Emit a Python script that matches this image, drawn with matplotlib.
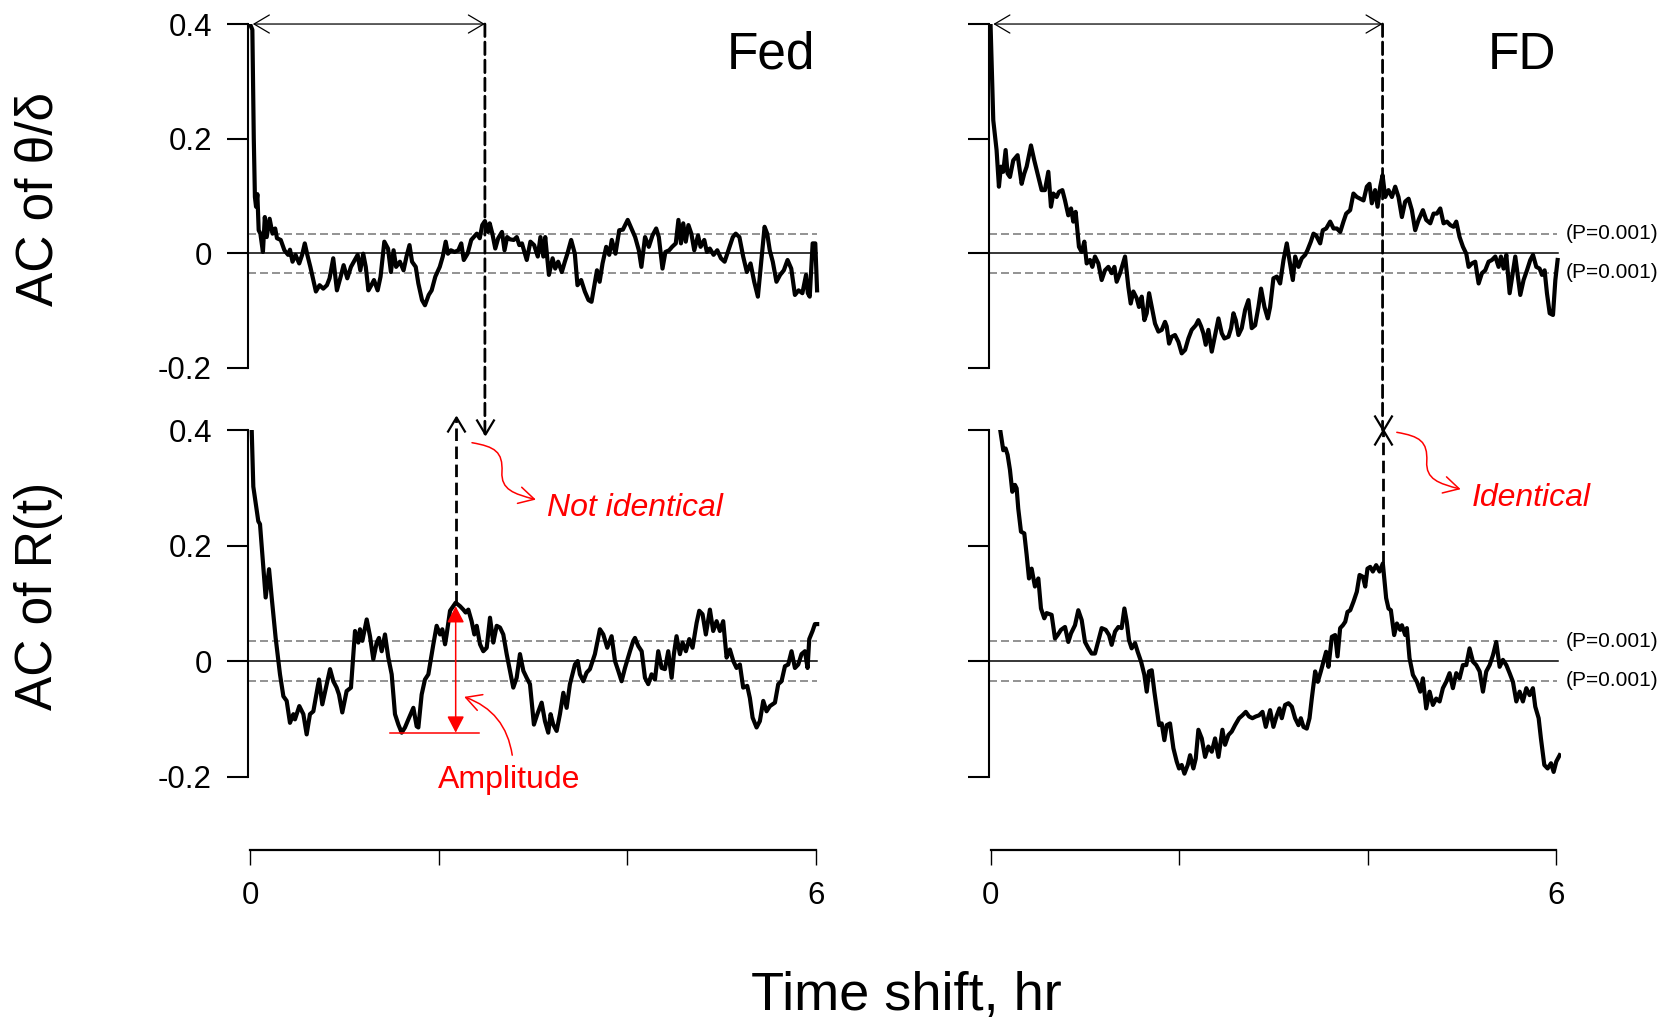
import numpy as np
import matplotlib
matplotlib.use('Agg')
import matplotlib.pyplot as plt
from matplotlib.patches import ConnectionPatch, FancyArrowPatch
from matplotlib.path import Path

plt.rcParams['font.family'] = ['Liberation Sans', 'DejaVu Sans']

# autocorrelation vs. time shift, (hr, AC) pairs
fed_theta = [
    (0.0, 0.400), (0.025, 0.390), (0.040, 0.200), (0.052, 0.098), (0.064, 0.081), (0.078, 0.103),
    (0.092, 0.040), (0.110, 0.034), (0.137, 0.002), (0.157, 0.063), (0.177, 0.028), (0.208, 0.060),
    (0.239, 0.034), (0.267, 0.043), (0.286, 0.026), (0.326, 0.023), (0.365, 0.005), (0.404, -0.003),
    (0.424, 0.006), (0.451, -0.015), (0.483, -0.003), (0.522, -0.018), (0.553, -0.003), (0.581, 0.017),
    (0.608, -0.003), (0.640, -0.024), (0.699, -0.067), (0.738, -0.056), (0.777, -0.062), (0.816, -0.056),
    (0.844, -0.044), (0.883, -0.009), (0.922, -0.065), (0.962, -0.041), (0.993, -0.021), (1.032, -0.044),
    (1.071, -0.024), (1.111, -0.012), (1.142, -0.003), (1.170, -0.030), (1.201, -0.001), (1.228, -0.024),
    (1.256, -0.065), (1.287, -0.056), (1.315, -0.047), (1.354, -0.065), (1.385, -0.041), (1.425, 0.020),
    (1.464, 0.008), (1.495, -0.033), (1.523, 0.005), (1.550, -0.024), (1.590, -0.015), (1.629, -0.030),
    (1.660, -0.006), (1.692, 0.014), (1.719, -0.015), (1.758, -0.024), (1.786, -0.053), (1.825, -0.082),
    (1.856, -0.091), (1.896, -0.073), (1.927, -0.065), (1.966, -0.041), (2.013, -0.024), (2.045, -0.006),
    (2.076, 0.020), (2.100, -0.001), (2.131, 0.005), (2.170, 0.002), (2.210, 0.005), (2.241, 0.017),
    (2.268, -0.012), (2.308, -0.001), (2.347, 0.023), (2.374, 0.028), (2.406, 0.034), (2.437, 0.026),
    (2.464, 0.049), (2.492, 0.056), (2.524, 0.037), (2.543, 0.052), (2.571, 0.034), (2.602, 0.008),
    (2.633, 0.026), (2.673, 0.037), (2.700, 0.005), (2.728, 0.028), (2.759, 0.024), (2.798, 0.023),
    (2.830, 0.028), (2.857, 0.014), (2.885, 0.017), (2.936, -0.012), (2.975, 0.020), (3.014, 0.014),
    (3.053, -0.006), (3.081, 0.028), (3.112, -0.006), (3.132, 0.028), (3.171, -0.038), (3.210, -0.009),
    (3.238, -0.027), (3.269, -0.015), (3.308, -0.033), (3.340, -0.015), (3.367, -0.001), (3.407, 0.023),
    (3.446, -0.001), (3.474, -0.056), (3.513, -0.047), (3.552, -0.067), (3.591, -0.082), (3.623, -0.085),
    (3.654, -0.056), (3.681, -0.030), (3.709, -0.050), (3.740, -0.018), (3.779, 0.011), (3.811, -0.003),
    (3.838, 0.023), (3.877, -0.001), (3.917, 0.040), (3.956, 0.041), (4.007, 0.058), (4.046, 0.043),
    (4.086, 0.028), (4.125, 0.005), (4.152, -0.024), (4.191, 0.028), (4.231, 0.011), (4.270, 0.031),
    (4.309, 0.043), (4.337, 0.028), (4.376, -0.027), (4.407, 0.002), (4.447, 0.005), (4.478, 0.011),
    (4.517, 0.017), (4.545, 0.058), (4.572, 0.017), (4.596, 0.052), (4.623, 0.020), (4.651, 0.049),
    (4.682, 0.034), (4.713, 0.005), (4.753, 0.031), (4.780, 0.011), (4.819, 0.023), (4.847, 0.002),
    (4.878, 0.008), (4.918, -0.003), (4.957, 0.005), (4.996, -0.009), (5.035, -0.015), (5.075, 0.005),
    (5.122, 0.028), (5.153, 0.034), (5.192, 0.028), (5.232, -0.006), (5.271, -0.033), (5.310, -0.018),
    (5.349, -0.050), (5.388, -0.076), (5.420, -0.021), (5.459, 0.046), (5.487, 0.034), (5.514, 0.005),
    (5.546, -0.015), (5.585, -0.050), (5.624, -0.038), (5.663, -0.030), (5.703, -0.012), (5.742, -0.027),
    (5.781, -0.073), (5.820, -0.065), (5.860, -0.070), (5.899, -0.038), (5.918, -0.070), (5.938, -0.076),
    (5.969, 0.017), (5.997, 0.017), (6.016, -0.065),
]

fed_rt = [
    (0.018, 0.400), (0.035, 0.302), (0.088, 0.242), (0.106, 0.237), (0.166, 0.110), (0.202, 0.159),
    (0.230, 0.110), (0.272, 0.040), (0.318, -0.023), (0.354, -0.061), (0.389, -0.069), (0.424, -0.107),
    (0.460, -0.092), (0.477, -0.101), (0.523, -0.078), (0.566, -0.092), (0.601, -0.127), (0.636, -0.092),
    (0.672, -0.087), (0.732, -0.032), (0.767, -0.075), (0.849, -0.014), (0.884, -0.035), (0.919, -0.046),
    (0.944, -0.058), (0.979, -0.089), (1.025, -0.052), (1.071, -0.046), (1.114, 0.052), (1.149, 0.032),
    (1.167, 0.055), (1.192, 0.035), (1.238, 0.072), (1.273, 0.043), (1.308, 0.003), (1.344, 0.032),
    (1.368, 0.040), (1.397, 0.017), (1.432, 0.046), (1.467, 0.006), (1.503, -0.023), (1.538, -0.092),
    (1.574, -0.110), (1.609, -0.124), (1.644, -0.115), (1.680, -0.101), (1.733, -0.081), (1.768, -0.113),
    (1.786, -0.115), (1.821, -0.058), (1.856, -0.032), (1.892, -0.023), (1.945, 0.029), (1.980, 0.061),
    (2.016, 0.046), (2.040, 0.055), (2.069, 0.029), (2.086, 0.046), (2.122, 0.087), (2.182, 0.101),
    (2.228, 0.095), (2.263, 0.089), (2.288, 0.084), (2.316, 0.089), (2.351, 0.069), (2.380, 0.046),
    (2.405, 0.061), (2.440, 0.029), (2.475, 0.017), (2.511, 0.023), (2.546, 0.075), (2.581, 0.032),
    (2.617, 0.061), (2.652, 0.058), (2.687, 0.046), (2.723, 0.012), (2.758, -0.017), (2.793, -0.046),
    (2.829, -0.029), (2.864, 0.012), (2.900, -0.017), (2.935, -0.029), (2.970, -0.040), (3.012, -0.110),
    (3.048, -0.092), (3.094, -0.072), (3.129, -0.104), (3.164, -0.124), (3.189, -0.092), (3.217, -0.110),
    (3.253, -0.121), (3.288, -0.092), (3.324, -0.055), (3.359, -0.081), (3.394, -0.040), (3.447, -0.006),
    (3.476, 0.000), (3.500, -0.023), (3.536, -0.035), (3.571, -0.020), (3.606, -0.014), (3.659, 0.012),
    (3.712, 0.055), (3.748, 0.046), (3.790, 0.023), (3.836, 0.043), (3.872, 0.000), (3.907, -0.017),
    (3.942, -0.035), (3.978, -0.012), (4.031, 0.017), (4.066, 0.035), (4.084, 0.040), (4.119, 0.026),
    (4.155, 0.017), (4.190, -0.029), (4.225, -0.040), (4.260, -0.023), (4.296, -0.032), (4.331, 0.017),
    (4.367, -0.012), (4.402, -0.014), (4.437, 0.017), (4.473, -0.029), (4.497, 0.012), (4.525, 0.043),
    (4.561, 0.012), (4.589, 0.032), (4.624, 0.017), (4.660, 0.038), (4.695, 0.023), (4.738, 0.066),
    (4.766, 0.087), (4.801, 0.081), (4.836, 0.046), (4.879, 0.089), (4.914, 0.052), (4.950, 0.069),
    (4.985, 0.052), (5.020, 0.069), (5.056, 0.006), (5.091, 0.020), (5.127, 0.000), (5.162, -0.012),
    (5.197, -0.006), (5.232, -0.046), (5.275, -0.043), (5.303, -0.064), (5.332, -0.098), (5.374, -0.115),
    (5.409, -0.104), (5.445, -0.069), (5.480, -0.087), (5.516, -0.078), (5.569, -0.072), (5.604, -0.040),
    (5.639, -0.035), (5.675, -0.009), (5.710, -0.006), (5.745, 0.017), (5.781, -0.012), (5.816, -0.006),
    (5.851, 0.012), (5.887, 0.017), (5.915, -0.012), (5.933, 0.038), (5.968, 0.052), (5.993, 0.064),
    (6.017, 0.064),
]

fd_theta = [
    (0.0, 0.400), (0.029, 0.232), (0.064, 0.180), (0.089, 0.116), (0.110, 0.151), (0.135, 0.142),
    (0.160, 0.180), (0.181, 0.139), (0.206, 0.133), (0.241, 0.162), (0.287, 0.171), (0.330, 0.121),
    (0.358, 0.139), (0.383, 0.151), (0.429, 0.188), (0.464, 0.162), (0.507, 0.133), (0.542, 0.110),
    (0.577, 0.110), (0.613, 0.142), (0.641, 0.081), (0.666, 0.104), (0.701, 0.098), (0.726, 0.107),
    (0.762, 0.110), (0.790, 0.092), (0.825, 0.066), (0.854, 0.078), (0.878, 0.055), (0.903, 0.072),
    (0.938, 0.011), (0.967, 0.002), (0.995, 0.020), (1.020, -0.018), (1.055, -0.012), (1.080, -0.024),
    (1.108, -0.006), (1.144, -0.018), (1.179, -0.047), (1.214, -0.030), (1.250, -0.024), (1.285, -0.035),
    (1.314, -0.024), (1.338, -0.050), (1.374, -0.035), (1.427, -0.006), (1.462, -0.059), (1.487, -0.088),
    (1.515, -0.067), (1.551, -0.079), (1.575, -0.094), (1.604, -0.076), (1.632, -0.117), (1.657, -0.105),
    (1.682, -0.070), (1.710, -0.094), (1.745, -0.123), (1.781, -0.137), (1.816, -0.134), (1.851, -0.120),
    (1.869, -0.128), (1.894, -0.158), (1.922, -0.146), (1.957, -0.143), (1.993, -0.155), (2.028, -0.175),
    (2.064, -0.169), (2.099, -0.149), (2.134, -0.134), (2.177, -0.126), (2.205, -0.117), (2.234, -0.128),
    (2.258, -0.140), (2.283, -0.160), (2.311, -0.134), (2.347, -0.172), (2.382, -0.143), (2.418, -0.114),
    (2.453, -0.140), (2.481, -0.149), (2.524, -0.146), (2.552, -0.131), (2.577, -0.105), (2.602, -0.117),
    (2.630, -0.143), (2.665, -0.131), (2.701, -0.099), (2.736, -0.082), (2.771, -0.131), (2.807, -0.126),
    (2.842, -0.094), (2.870, -0.062), (2.906, -0.094), (2.941, -0.114), (2.966, -0.094), (3.001, -0.044),
    (3.037, -0.041), (3.072, -0.053), (3.108, -0.012), (3.143, 0.017), (3.171, -0.012), (3.207, -0.047),
    (3.232, -0.006), (3.267, -0.024), (3.302, -0.009), (3.338, -0.003), (3.362, 0.005), (3.398, 0.020),
    (3.426, 0.034), (3.454, 0.031), (3.497, 0.017), (3.525, 0.040), (3.561, 0.043), (3.603, 0.055),
    (3.639, 0.043), (3.674, 0.043), (3.710, 0.037), (3.744, 0.055), (3.773, 0.069), (3.815, 0.075),
    (3.850, 0.104), (3.886, 0.098), (3.921, 0.095), (3.957, 0.092), (3.992, 0.116), (4.020, 0.121),
    (4.045, 0.087), (4.080, 0.110), (4.106, 0.081), (4.134, 0.116), (4.159, 0.136), (4.187, 0.098),
    (4.222, 0.110), (4.258, 0.098), (4.293, 0.116), (4.328, 0.098), (4.364, 0.063), (4.399, 0.090),
    (4.435, 0.095), (4.470, 0.075), (4.505, 0.040), (4.541, 0.058), (4.587, 0.075), (4.622, 0.058),
    (4.665, 0.052), (4.700, 0.069), (4.735, 0.069), (4.771, 0.078), (4.806, 0.052), (4.842, 0.055),
    (4.877, 0.049), (4.912, 0.046), (4.941, 0.055), (4.976, 0.028), (5.012, 0.011), (5.047, -0.001),
    (5.072, -0.024), (5.107, -0.018), (5.142, -0.015), (5.178, -0.053), (5.213, -0.035), (5.248, -0.030),
    (5.284, -0.015), (5.319, -0.012), (5.355, -0.006), (5.390, -0.024), (5.415, -0.006), (5.443, -0.027),
    (5.472, -0.003), (5.507, -0.070), (5.542, -0.033), (5.567, -0.006), (5.592, -0.038), (5.620, -0.073),
    (5.655, -0.047), (5.691, -0.030), (5.726, -0.012), (5.755, -0.003), (5.790, -0.024), (5.825, -0.027),
    (5.850, -0.038), (5.878, -0.030), (5.903, -0.070), (5.932, -0.105), (5.967, -0.108), (5.992, -0.047),
    (6.016, -0.012),
]

fd_rt = [
    (0.100, 0.403), (0.135, 0.365), (0.160, 0.368), (0.181, 0.357), (0.206, 0.331), (0.231, 0.293),
    (0.259, 0.305), (0.277, 0.299), (0.294, 0.264), (0.323, 0.224), (0.358, 0.221), (0.383, 0.184),
    (0.408, 0.143), (0.436, 0.160), (0.471, 0.129), (0.507, 0.143), (0.535, 0.091), (0.570, 0.074),
    (0.595, 0.083), (0.648, 0.080), (0.684, 0.039), (0.712, 0.045), (0.747, 0.054), (0.790, 0.059),
    (0.825, 0.033), (0.854, 0.048), (0.896, 0.062), (0.931, 0.088), (0.967, 0.071), (1.002, 0.033),
    (1.038, 0.022), (1.073, 0.013), (1.108, 0.013), (1.137, 0.031), (1.179, 0.057), (1.222, 0.054),
    (1.257, 0.045), (1.285, 0.028), (1.321, 0.051), (1.356, 0.059), (1.391, 0.057), (1.420, 0.091),
    (1.445, 0.068), (1.469, 0.036), (1.497, 0.022), (1.533, 0.031), (1.561, 0.016), (1.597, -0.001),
    (1.632, -0.024), (1.657, -0.053), (1.681, -0.018), (1.710, -0.016), (1.738, -0.053), (1.763, -0.082),
    (1.788, -0.111), (1.816, -0.108), (1.844, -0.137), (1.869, -0.111), (1.904, -0.108), (1.940, -0.151),
    (1.975, -0.174), (2.000, -0.186), (2.028, -0.180), (2.057, -0.195), (2.092, -0.180), (2.117, -0.163),
    (2.152, -0.186), (2.177, -0.169), (2.205, -0.119), (2.241, -0.134), (2.276, -0.166), (2.311, -0.148),
    (2.347, -0.157), (2.382, -0.134), (2.418, -0.166), (2.460, -0.119), (2.488, -0.145), (2.524, -0.128),
    (2.559, -0.122), (2.594, -0.111), (2.637, -0.099), (2.672, -0.094), (2.708, -0.088), (2.743, -0.096),
    (2.778, -0.099), (2.814, -0.096), (2.849, -0.094), (2.885, -0.088), (2.920, -0.114), (2.966, -0.085),
    (3.001, -0.114), (3.037, -0.094), (3.065, -0.082), (3.090, -0.099), (3.125, -0.076), (3.161, -0.073),
    (3.196, -0.079), (3.231, -0.099), (3.267, -0.111), (3.292, -0.099), (3.320, -0.114), (3.355, -0.117),
    (3.384, -0.099), (3.408, -0.065), (3.444, -0.018), (3.472, -0.036), (3.504, -0.018), (3.532, -0.001),
    (3.560, 0.016), (3.585, -0.010), (3.621, 0.042), (3.656, 0.045), (3.681, 0.008), (3.709, 0.057),
    (3.738, 0.062), (3.763, 0.068), (3.787, 0.085), (3.816, 0.088), (3.851, 0.103), (3.886, 0.120),
    (3.915, 0.149), (3.950, 0.146), (3.975, 0.129), (3.999, 0.160), (4.028, 0.163), (4.056, 0.155),
    (4.091, 0.166), (4.127, 0.155), (4.162, 0.169), (4.197, 0.109), (4.222, 0.091), (4.247, 0.088),
    (4.282, 0.045), (4.311, 0.065), (4.346, 0.054), (4.364, 0.062), (4.399, 0.045), (4.417, 0.057),
    (4.445, 0.005), (4.481, -0.024), (4.523, -0.036), (4.559, -0.053), (4.587, -0.030), (4.622, -0.082),
    (4.658, -0.053), (4.693, -0.076), (4.728, -0.065), (4.764, -0.070), (4.799, -0.047), (4.834, -0.036),
    (4.870, -0.021), (4.905, -0.047), (4.941, -0.021), (4.976, -0.030), (5.011, -0.007), (5.047, -0.007),
    (5.082, 0.022), (5.118, -0.001), (5.153, -0.007), (5.189, -0.018), (5.224, -0.053), (5.259, -0.018),
    (5.295, -0.007), (5.330, 0.010), (5.365, 0.033), (5.401, -0.010), (5.436, 0.002), (5.472, -0.007),
    (5.507, -0.021), (5.542, -0.036), (5.578, -0.070), (5.613, -0.053), (5.648, -0.070), (5.684, -0.047),
    (5.719, -0.059), (5.754, -0.047), (5.779, -0.079), (5.815, -0.099), (5.839, -0.134), (5.875, -0.180),
    (5.910, -0.186), (5.946, -0.177), (5.974, -0.192), (6.002, -0.174), (6.038, -0.163),
]

p_level = 0.034          # significance band, P = 0.001
yticks = [-0.2, 0, 0.2, 0.4]
ytick_labels = ['-0.2', '0', '0.2', '0.4']
xticks = [0, 2, 4, 6]
xtick_labels = ['0', '', '', '6']

fig = plt.figure(figsize=(16.72, 10.18), dpi=100)
col_w = 0.3422
ax_tl = fig.add_axes([0.1484, 0.6332, col_w, 0.3432])
ax_tr = fig.add_axes([0.5913, 0.6332, col_w, 0.3432])
ax_bl = fig.add_axes([0.1484, 0.2315, col_w, 0.3461])
ax_br = fig.add_axes([0.5913, 0.2315, col_w, 0.3461])


def draw_panel(ax, curve, show_labels, bottom_axis, p_text):
    x, y = np.array(curve).T
    ax.set_xlim(-0.02, 6.05)
    ax.set_ylim(-0.21, 0.4)
    ax.plot([-0.02, 6.02], [0, 0], color='k', lw=1.1)
    for lev in (p_level, -p_level):
        ax.plot([-0.02, 6.01], [lev, lev], color='#808080', lw=1.2, dashes=(4.8, 2.4))
        if p_text:
            ax.text(6.1, lev, '(P=0.001)', fontsize=15, ha='left', va='center')
    ax.plot(x, y, color='k', lw=3.0, solid_joinstyle='round')

    for s in ('top', 'right'):
        ax.spines[s].set_visible(False)
    ax.spines['left'].set_bounds(-0.2, 0.4)
    ax.spines['left'].set_linewidth(1.5)
    ax.set_yticks(yticks)
    ax.set_yticklabels(ytick_labels if show_labels else [])
    ax.tick_params(axis='y', length=15, width=1.5, pad=11, labelsize=22.5)
    if bottom_axis:
        ax.spines['bottom'].set_position(('outward', 48.7))
        ax.spines['bottom'].set_bounds(0, 6)
        ax.spines['bottom'].set_linewidth(1.6)
        ax.set_xticks(xticks)
        ax.set_xticklabels(xtick_labels)
        ax.tick_params(axis='x', length=10.8, width=1.0, pad=11.5, labelsize=22.5)
    else:
        ax.spines['bottom'].set_visible(False)
        ax.set_xticks([])
    ax.patch.set_visible(False)


draw_panel(ax_tl, fed_theta, True, False, False)
draw_panel(ax_tr, fd_theta, False, False, True)
draw_panel(ax_bl, fed_rt, True, True, False)
draw_panel(ax_br, fd_rt, False, True, True)

ax_tl.text(6.0, 0.322, 'Fed', fontsize=37, ha='right', va='baseline')
ax_tr.text(6.0, 0.322, 'FD', fontsize=37, ha='right', va='baseline')


def extreme(curve, lo, hi, pick=np.argmax):
    x, y = np.array(curve).T
    m = (x >= lo) & (x <= hi)
    i = pick(y[m])
    return x[m][i], y[m][i]


# open "V" arrow heads, tip at the data point
V_DOWN = Path([(-0.6, 1.0), (0, 0), (0.6, 1.0)], [Path.MOVETO, Path.LINETO, Path.LINETO])
V_UP = Path([(-0.6, -1.0), (0, 0), (0.6, -1.0)], [Path.MOVETO, Path.LINETO, Path.LINETO])
dash_kw = dict(color='k', lw=2.0)
dash_pat = (4.5, 2.0)


def head(ax, x, y, marker):
    ax.plot([x], [y], marker=marker, ms=21.6, mfc='none', mec='k', mew=1.6, clip_on=False)


def period_link(ax_top, ax_bot, top_curve, bot_curve, lo, hi, y_down, y_up):
    tx, _ = extreme(top_curve, lo, hi)
    bx, by = extreme(bot_curve, lo, hi)
    # period arrow along the top of the upper panel
    ax_top.annotate('', xy=(0.03, 0.4), xytext=(tx, 0.4), annotation_clip=False,
                    arrowprops=dict(arrowstyle='<->,head_length=1.1,head_width=0.65',
                                    lw=0.9, color='k', shrinkA=0, shrinkB=0))
    con = ConnectionPatch(xyA=(tx, 0.4), coordsA=ax_top.transData,
                          xyB=(tx, y_down), coordsB=ax_bot.transData,
                          linestyle=(0, dash_pat), **dash_kw)
    fig.add_artist(con)
    head(ax_bot, tx, y_down, V_DOWN)
    ax_bot.plot([bx, bx], [by, y_up], dashes=dash_pat, clip_on=False, **dash_kw)
    head(ax_bot, bx, y_up, V_UP)
    return bx, by


fed_px, fed_py = period_link(ax_tl, ax_bl, fed_theta, fed_rt, 1.5, 3.0, 0.393, 0.422)
period_link(ax_tr, ax_br, fd_theta, fd_rt, 3.0, 5.0, 0.4, 0.4)

# red wavy pointers to the comparison labels
S_SHAPE = [(0, 0), (0.244, -0.007), (0.328, -0.0155), (0.318, -0.0505),
           (0.307, -0.0815), (0.445, -0.0885), (0.678, -0.0985)]
S_CODES = [Path.MOVETO] + [Path.CURVE4] * 6


def s_pointer(ax, x0, y0, label):
    verts = [(x0 + dx, y0 + dy) for dx, dy in S_SHAPE]
    arr = FancyArrowPatch(path=Path(verts, S_CODES), arrowstyle='->,head_length=1.1,head_width=0.6',
                          mutation_scale=10, color='red', lw=1.1, clip_on=False)
    ax.add_patch(arr)
    ax.text(x0 + 0.80, y0 - 0.127, label, color='red', style='italic', fontsize=23,
            ha='left', va='baseline')


s_pointer(ax_bl, 2.355, 0.378, 'Not identical')
s_pointer(ax_br, 4.31, 0.396, 'Identical')

# amplitude of the R(t) autocorrelation
tr_x, tr_y = extreme(fed_rt, 1.4, 2.0, np.argmin)
ax_bl.annotate('', xy=(fed_px, tr_y), xytext=(fed_px, fed_py - 0.006),
               arrowprops=dict(arrowstyle='<|-|>,head_length=1.0,head_width=0.52',
                               color='red', lw=1.1, shrinkA=0, shrinkB=0))
ax_bl.plot([tr_x - 0.12, fed_px + 0.25], [tr_y, tr_y], color='red', lw=1.1)
ax_bl.annotate('', xy=(fed_px + 0.09, -0.062), xytext=(fed_px + 0.60, -0.163),
               annotation_clip=False,
               arrowprops=dict(arrowstyle='->,head_length=1.1,head_width=0.6',
                               connectionstyle='arc3,rad=0.3', color='red', lw=1.1,
                               shrinkA=0, shrinkB=0))
ax_bl.text(fed_px + 0.57, -0.2205, 'Amplitude', color='red', fontsize=23,
           ha='center', va='baseline')

fig.text(0.0233, 0.8045, 'AC of θ/δ', rotation=90, fontsize=37, ha='center', va='center')
fig.text(0.0233, 0.4145, 'AC of R(t)', rotation=90, fontsize=37, ha='center', va='center')
fig.text(0.5419, 0.0079, 'Time shift, hr', fontsize=39, ha='center', va='baseline')

fig.savefig('out.png', dpi=100, facecolor='white')
